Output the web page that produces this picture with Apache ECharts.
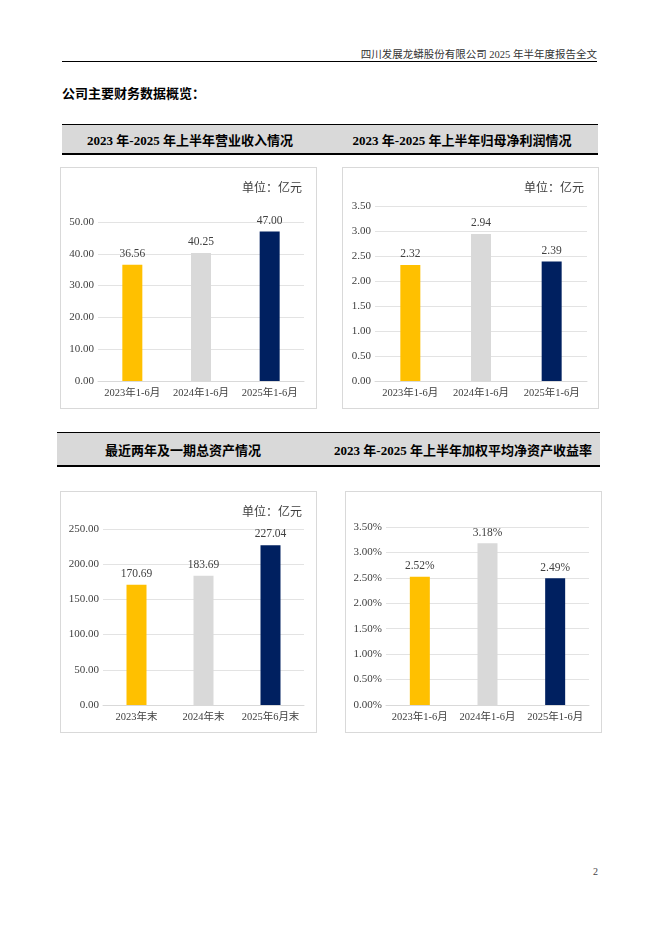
<!DOCTYPE html>
<html lang="zh-CN">
<head>
<meta charset="UTF-8">
<title>公司主要财务数据概览</title>
<script src="https://cdn.jsdelivr.net/npm/echarts@6/dist/echarts.min.js"></script>
<style>
    body { margin: 0; background: #fff; font-family: "Liberation Serif", "Noto Sans CJK SC", serif; color: #000; }
    .page { position: relative; width: 662px; height: 936px; overflow: hidden; }
    .abs { position: absolute; }
    .top-title { right: 65px; top: 46px; font-size: 10.5px; color: #333; white-space: nowrap; }
    .top-line { left: 62px; top: 61px; width: 535px; height: 0; border-top: 1px solid #000; }
    .lead { left: 62px; top: 83px; font-size: 13px; font-weight: bold; }
    .band { background: #d9d9d9; border-top: 1.5px solid #000; border-bottom: 2.5px solid #000; box-sizing: border-box; }
    .band span { position: absolute; top: 50%; transform: translate(-50%, -50%); font-size: 13px; font-weight: bold; white-space: nowrap; }
    .box { border: 1px solid #d9d9d9; box-sizing: border-box; }
    .pageno { left: 593px; top: 866px; font-size: 10px; color: #444; }
</style>
</head>
<body>
<div class="page">
    <div class="abs top-title">四川发展龙蟒股份有限公司 2025 年半年度报告全文</div>
    <div class="abs top-line"></div>
    <div class="abs lead">公司主要财务数据概览：</div>

    <div class="abs band" style="left:62px; top:124px; width:536px; height:31px;">
        <span style="left:128px;">2023 年-2025 年上半年营业收入情况</span>
        <span style="left:400px;">2023 年-2025 年上半年归母净利润情况</span>
    </div>
    <div id="c1" class="abs box" style="left:60px; top:167px; width:257px; height:242px;"></div>
    <div id="c2" class="abs box" style="left:342px; top:167px; width:257px; height:242px;"></div>

    <div class="abs band" style="left:57px; top:432px; width:543px; height:35px;">
        <span style="left:126px;">最近两年及一期总资产情况</span>
        <span style="left:406px;">2023 年-2025 年上半年加权平均净资产收益率</span>
    </div>
    <div id="c3" class="abs box" style="left:60px; top:491px; width:257px; height:242px;"></div>
    <div id="c4" class="abs box" style="left:345px; top:491px; width:257px; height:242px;"></div>

    <div class="abs pageno">2</div>
</div>

<script>
    // 数据
    var halfYearCats = ['2023年1-6月', '2024年1-6月', '2025年1-6月'];
    var assetCats = ['2023年末', '2024年末', '2025年6月末'];
    var revenueValues = [36.56, 40.25, 47.00];      // 营业收入（亿元）
    var profitValues = [2.32, 2.94, 2.39];          // 归母净利润（亿元）
    var assetValues = [170.69, 183.69, 227.04];     // 总资产（亿元）
    var roeValues = [2.52, 3.18, 2.49];             // 加权平均净资产收益率（%）
    var barColors = ['#FFC000', '#D9D9D9', '#002060'];

    var fontFam = '"Liberation Serif", "Noto Sans CJK SC", serif';
    var textColor = '#404040';

    function makeChart(id, cats, values, cfg) {
        var chart = echarts.init(document.getElementById(id));
        var suffix = cfg.percent ? '%' : '';
        chart.setOption({
            animation: false,
            title: {
                show: cfg.unit,
                text: '单位：亿元',
                right: 9,
                top: 10,
                textStyle: { fontFamily: fontFam, fontSize: 12, fontWeight: 'normal', color: textColor }
            },
            grid: cfg.grid,
            xAxis: {
                type: 'category',
                data: cats,
                axisLine: { show: true, lineStyle: { color: '#d9d9d9' } },
                axisTick: { show: false },
                axisLabel: { interval: 0, margin: 7, fontFamily: fontFam, fontSize: 10.5, color: textColor }
            },
            yAxis: {
                type: 'value',
                min: 0,
                max: cfg.max,
                interval: cfg.interval,
                axisLine: { show: false },
                axisTick: { show: false },
                splitLine: { lineStyle: { color: '#e3e3e3' } },
                axisLabel: {
                    margin: 4,
                    fontFamily: fontFam,
                    fontSize: 11,
                    color: textColor,
                    formatter: function (v) { return v.toFixed(2) + suffix; }
                }
            },
            series: [{
                type: 'bar',
                barWidth: 20,
                data: values.map(function (v, i) {
                    return { value: v, itemStyle: { color: barColors[i] } };
                }),
                label: {
                    show: true,
                    position: 'top',
                    distance: 5,
                    fontFamily: fontFam,
                    fontSize: 11.5,
                    color: textColor,
                    formatter: function (p) { return p.value.toFixed(2) + suffix; }
                }
            }]
        });
    }

    makeChart('c1', halfYearCats, revenueValues, {
        unit: true, max: 50, interval: 10,
        grid: { left: 37, right: 12, top: 54, bottom: 27 }
    });
    makeChart('c2', halfYearCats, profitValues, {
        unit: true, max: 3.5, interval: 0.5,
        grid: { left: 32, right: 11, top: 38, bottom: 27 }
    });
    makeChart('c3', assetCats, assetValues, {
        unit: true, max: 250, interval: 50,
        grid: { left: 42, right: 12, top: 37, bottom: 27 }
    });
    makeChart('c4', halfYearCats, roeValues, {
        unit: false, percent: true, max: 3.5, interval: 0.5,
        grid: { left: 40, right: 12, top: 35, bottom: 27 }
    });
</script>
</body>
</html>
